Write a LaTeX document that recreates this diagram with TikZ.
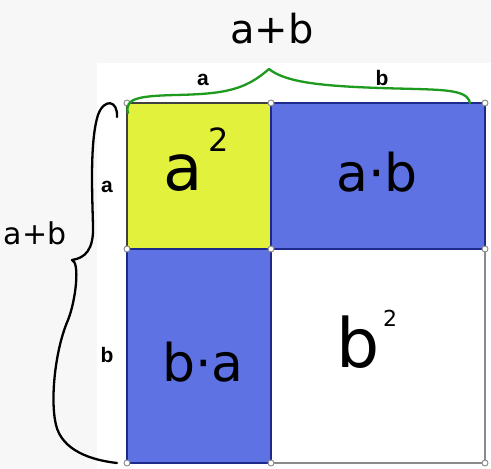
\documentclass[tikz,border=0pt]{standalone}
\usepackage{fontspec}
\setmainfont{DejaVu Sans}
\newfontfamily\labelfont{Liberation Sans}
\definecolor{cellyellow}{HTML}{E2F23C}
\definecolor{cellblue}{HTML}{5F72E3}
\definecolor{edgeblue}{HTML}{1E2A8A}
\definecolor{edgegray}{HTML}{8A8A8A}
\definecolor{bracegreen}{HTML}{1E9A1E}
\definecolor{pagegray}{HTML}{F7F7F7}
\begin{document}
\begin{tikzpicture}[
  x=1pt, y=-1pt,
  yellowcell/.style={fill=cellyellow, draw=darkgray, line width=1.5pt},
  bluecell/.style={fill=cellblue, draw=edgeblue, line width=1.6pt},
  whitecell/.style={fill=white, draw=edgegray, line width=1.6pt},
  hand/.style={font=\fontsize{#1}{#1}\selectfont, inner sep=0pt},
  side/.style={font=\labelfont\bfseries\fontsize{21}{21}\selectfont, inner sep=0pt},
  corner/.style={circle, draw=edgegray, fill=white, inner sep=0pt, minimum size=6pt, line width=0.9pt},
  brace/.style={line width=2.3pt, line cap=round, line join=round}
]
\useasboundingbox (0,0) rectangle (491,469);
\fill[pagegray] (0,0) rectangle (491,469);
\fill[white] (97,63) rectangle (491,469);

\foreach \i/\x in {0/127,1/271,2/485}
  \foreach \j/\y in {0/103,1/249,2/463}
    \coordinate (g\i\j) at (\x,\y);

\draw[whitecell] (g11) rectangle (g22);
\draw[yellowcell] (g00) rectangle (g11);
\draw[bluecell] (g10) rectangle (g21);
\draw[bluecell] (g01) rectangle (g12);

\foreach \i in {0,1,2}
  \foreach \j in {0,1,2}
    \node[corner] (c\i\j) at (g\i\j) {};

\node[hand=64] (asq) at (183,173) {a};
\node[hand=32] (asqexp) at (219,140) {2};
\node[hand=52] (ab) at (377,172) {a·b};
\node[hand=52] (ba) at (203,362) {b·a};
\node[hand=68] (bsq) at (358,342) {b};
\node[hand=22] (bsqexp) at (390,318) {2};

\node[side] (topa) at (203,80) {a};
\node[side] (topb) at (382,78) {b};
\node[side] (lefta) at (107,187) {a};
\node[side] (leftb) at (107,355) {b};

\node[hand=40] (topsum) at (272,29) {a+b};
\node[hand=30] (leftsum) at (35,233) {a+b};

\coordinate (gl) at (128,113);
\coordinate (gtip) at (269,69);
\coordinate (gr) at (470,103);
\draw[brace, bracegreen] (gl) .. controls (124,98) and (140,96) .. (175,95)
  .. controls (225,94) and (245,90) .. (gtip)
  .. controls (285,82) and (320,86) .. (380,88)
  .. controls (440,90) and (467,88) .. (gr);

\coordinate (kt) at (117,117);
\coordinate (ktip) at (72,260);
\coordinate (kb) at (117,463);
\draw[brace, black] (kt) .. controls (118,100) and (104,98) .. (98,115)
  .. controls (90,140) and (92,190) .. (93,225)
  .. controls (94,250) and (85,258) .. (ktip)
  .. controls (80,262) and (76,300) .. (68,320)
  .. controls (55,350) and (50,400) .. (56,425)
  .. controls (62,450) and (90,460) .. (kb);
\end{tikzpicture}
\end{document}
